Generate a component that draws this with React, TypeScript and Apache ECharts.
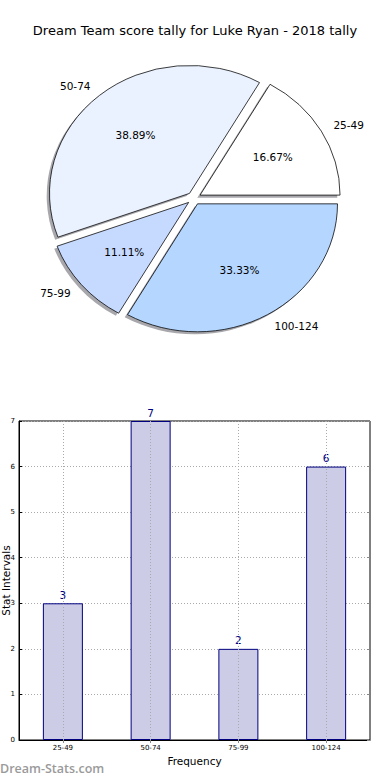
import React, { useEffect, useRef } from "react";
import * as echarts from "echarts";

const TITLE = "Dream Team score tally for Luke Ryan - 2018 tally";
const categories = ["25-49", "50-74", "75-99", "100-124"];
const frequencies = [3, 7, 2, 6];
const pieColors = ["#ffffff", "#eaf2ff", "#c6d9ff", "#b4d6ff"];
const yTicks = [0, 1, 2, 3, 4, 5, 6, 7];
const X_NAME = "Frequency";
const Y_NAME = "Stat Intervals";
const WATERMARK = "Dream-Stats.com";

const FONT = "DejaVu Sans";

export default function App() {
  const ref = useRef<HTMLDivElement>(null);
  useEffect(() => {
    if (!ref.current) return;
    const chart = echarts.init(ref.current, null, { renderer: "svg" });
    const total = frequencies.reduce((a, b) => a + b, 0);
    const cum: number[] = [];
    let acc = 0;
    frequencies.forEach((v) => {
      cum.push(acc);
      acc += v;
    });
    const PCX = 194;
    const PCY = 198.3;
    const RX = 140;
    const RY = 128;
    const EXPL = 0.05;
    const pieData = categories.map((c, i) => ({ name: c, value: frequencies[i] }));

    const angles = (idx: number) => {
      const a1 = (cum[idx] / total) * Math.PI * 2;
      const a2 = ((cum[idx] + frequencies[idx]) / total) * Math.PI * 2;
      return { a1, a2, mid: (a1 + a2) / 2 };
    };

    const wedge = (idx: number, shadow: boolean) => {
      const { a1, a2, mid } = angles(idx);
      const ox = EXPL * RX * Math.cos(mid) + (shadow ? -0.02 * RX : 0);
      const oy = -EXPL * RX * Math.sin(mid) + (shadow ? 0.02 * RX : 0);
      return {
        type: "group",
        x: PCX,
        y: PCY,
        scaleY: RY / RX,
        children: [
          {
            type: "sector",
            shape: {
              cx: ox,
              cy: oy,
              r0: 0,
              r: RX,
              startAngle: -a1,
              endAngle: -a2,
              clockwise: false,
            },
            style: shadow
              ? { fill: "rgba(60,60,70,0.45)", stroke: "none" }
              : { fill: pieColors[idx], stroke: "#000", lineWidth: 0.8, strokeNoScale: true },
          },
        ],
      };
    };

    const option: any = {
      animation: false,
      backgroundColor: "#ffffff",
      textStyle: { fontFamily: FONT },
      title: {
        text: TITLE,
        left: "center",
        top: 19,
        textStyle: { fontFamily: FONT, fontSize: 13, fontWeight: "normal", color: "#000" },
      },
      graphic: [
        {
          type: "text",
          left: 0,
          top: 762,
          style: { text: WATERMARK, fill: "#9a9a9a", font: `600 12.5px "Open Sans"` },
        },
      ],
      grid: {
        left: 19,
        right: 20,
        top: 421,
        bottom: 40,
        outerBoundsMode: "none",
        containLabel: false,
        show: true,
        borderColor: "#000",
        borderWidth: 1,
        backgroundColor: "transparent",
      },
      xAxis: [
        {
          type: "category",
          data: categories,
          name: X_NAME,
          nameLocation: "middle",
          nameGap: 15,
          nameMoveOverlap: false,
          nameTextStyle: { fontFamily: FONT, fontSize: 10.5, color: "#000" },
          axisLine: { lineStyle: { color: "#000" } },
          axisTick: { show: true, alignWithLabel: true, inside: true, length: 3, lineStyle: { color: "#000" } },
          axisLabel: { fontFamily: FONT, fontSize: 7, color: "#000", margin: 4 },
          splitLine: { show: false },
        },
        {
          type: "category",
          data: categories,
          position: "top",
          axisLine: { show: false },
          axisTick: { show: true, alignWithLabel: true, inside: true, length: 3, lineStyle: { color: "#888" } },
          axisLabel: { show: false },
        },
      ],
      yAxis: [
        {
          type: "value",
          min: yTicks[0],
          max: yTicks[yTicks.length - 1],
          interval: 1,
          name: Y_NAME,
          nameLocation: "middle",
          nameGap: 8,
          nameRotate: 90,
          nameMoveOverlap: false,
          nameTextStyle: { fontFamily: FONT, fontSize: 10.5, color: "#000" },
          axisLine: { show: true, lineStyle: { color: "#000" } },
          axisTick: { show: true, inside: true, length: 3, lineStyle: { color: "#000" } },
          axisLabel: { fontFamily: FONT, fontSize: 7, color: "#000", margin: 4 },
          splitLine: { show: true, lineStyle: { type: [1, 2], color: "#aaaaaa", width: 1 } },
        },
        {
          type: "value",
          min: yTicks[0],
          max: yTicks[yTicks.length - 1],
          interval: 1,
          position: "right",
          axisLine: { show: false },
          axisTick: { show: true, inside: true, length: 3, lineStyle: { color: "#888" } },
          axisLabel: { show: false },
          splitLine: { show: false },
        },
      ],
      series: [
        {
          type: "custom",
          coordinateSystem: "none",
          z: 1,
          data: pieData,
          silent: true,
          renderItem: (params: any) => wedge(params.dataIndex, true),
        },
        {
          type: "custom",
          coordinateSystem: "none",
          z: 2,
          data: pieData,
          silent: true,
          renderItem: (params: any) => {
            const idx = params.dataIndex;
            const { mid } = angles(idx);
            const sx = PCX + EXPL * RX * Math.cos(mid);
            const sy = PCY - EXPL * RY * Math.sin(mid);
            const cos = Math.cos(mid);
            const sin = Math.sin(mid);
            const lx = sx + 1.1 * RX * cos;
            const ly = sy - 1.1 * RY * sin;
            const px = sx + 0.6 * RX * cos;
            const py = sy - 0.6 * RY * sin;
            const pct = ((frequencies[idx] / total) * 100).toFixed(2) + "%";
            return {
              type: "group",
              children: [
                wedge(idx, false),
                {
                  type: "text",
                  x: lx,
                  y: ly,
                  style: {
                    text: categories[idx],
                    fill: "#000",
                    font: `10.5px ${FONT}`,
                    align: cos > 0 ? "left" : "right",
                    verticalAlign: "middle",
                  },
                },
                {
                  type: "text",
                  x: px,
                  y: py,
                  style: {
                    text: pct,
                    fill: "#000",
                    font: `10.5px ${FONT}`,
                    align: "center",
                    verticalAlign: "middle",
                  },
                },
              ],
            };
          },
        },
        {
          type: "bar",
          data: frequencies,
          barWidth: 40,
          z: 3,
          itemStyle: { color: "#ccccE6", borderColor: "#000080", borderWidth: 1 },
          label: {
            show: true,
            position: "top",
            distance: 3,
            color: "#000080",
            fontFamily: FONT,
            fontSize: 10.5,
          },
          markLine: {
            silent: true,
            symbol: "none",
            label: { show: false },
            z: 4,
            lineStyle: { type: [1, 2], color: "#aaaaaa", width: 1 },
            data: categories.map((c) => ({ xAxis: c })),
          },
        },
      ],
    };
    chart.setOption(option);
    return () => chart.dispose();
  }, []);
  return (
    <div
      ref={ref}
      style={{ position: "fixed", left: 0, top: 0, width: 390, height: 780, background: "#fff" }}
    />
  );
}
